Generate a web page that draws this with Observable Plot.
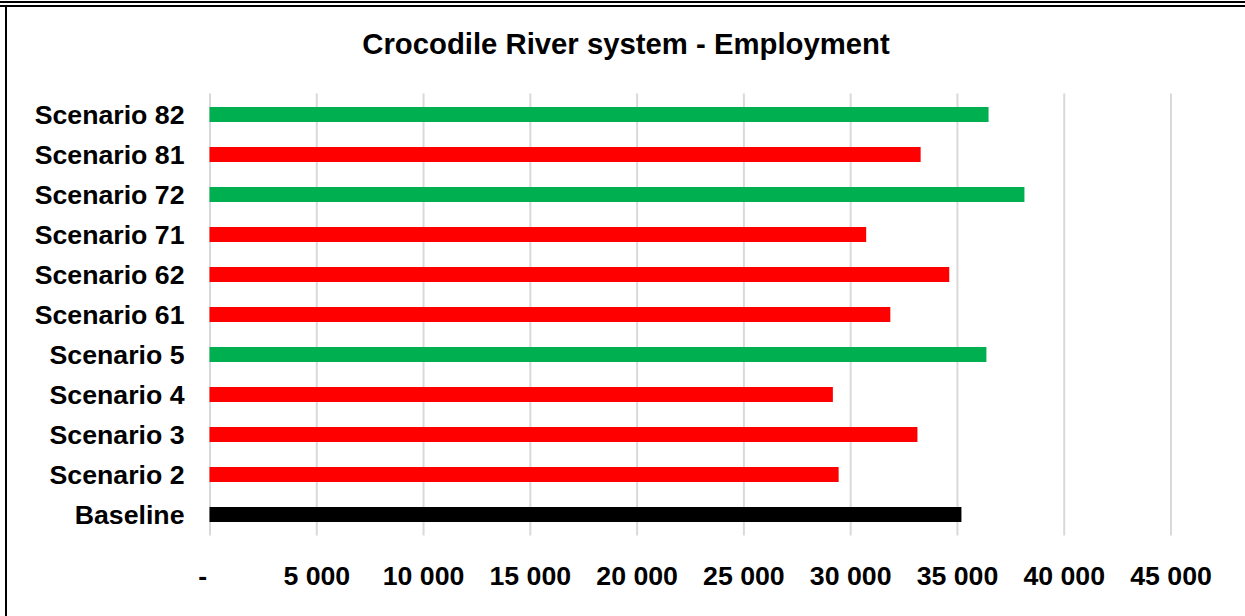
<!DOCTYPE html>
<html>
<head>
<meta charset="utf-8">
<script src="https://cdn.jsdelivr.net/npm/d3@7"></script>
<script src="https://cdn.jsdelivr.net/npm/@observablehq/plot@0.6"></script>
<style>
  html, body { margin: 0; padding: 0; background: #fff; }
  #wrap { position: relative; width: 1245px; height: 616px; overflow: hidden; background: #fff;
          font-family: "Liberation Sans", Arial, sans-serif; }
  .line { position: absolute; background: #000; z-index: 10; }
  #title { position: absolute; left: 7px; top: 0; width: 1238px; height: 88px; line-height: 88px;
           text-align: center; font-size: 29.3px; font-weight: bold; color: #000; }
  #chart { position: absolute; left: 0; top: 88px; z-index: 1; }
</style>
</head>
<body>
<div id="wrap">
  <div id="title">Crocodile River system - Employment</div>
  <div id="chart"></div>
  <div class="line" style="left:0;top:1px;width:1245px;height:2px"></div>
  <div class="line" style="left:0;top:5px;width:1245px;height:2px"></div>
  <div class="line" style="left:5px;top:5px;width:2px;height:611px"></div>
</div>
<script>
const scenarios = ["Scenario 82","Scenario 81","Scenario 72","Scenario 71","Scenario 62","Scenario 61","Scenario 5","Scenario 4","Scenario 3","Scenario 2","Baseline"];
const employment = [36480, 33300, 38160, 30750, 34640, 31880, 36380, 29190, 33150, 29460, 35210];
const xTicks = [0, 5000, 10000, 15000, 20000, 25000, 30000, 35000, 40000, 45000];

const baselineValue = employment[scenarios.indexOf("Baseline")];
const rows = scenarios.map((s, i) => ({
  scenario: s,
  value: employment[i],
  status: s === "Baseline" ? "baseline" : (employment[i] > baselineValue ? "above" : "below")
}));

const fmt = d => d === 0 ? "-\u00a0\u00a0" : d3.format(",")(d).replace(/,/g, " ");

const chart = Plot.plot({
  width: 1245,
  height: 528,
  marginLeft: 209.5,
  marginRight: 74.5,
  marginTop: 5.4,
  marginBottom: 80.4,
  style: { fontFamily: "'Liberation Sans', Arial, sans-serif", fontSize: "26.7px", fontWeight: "bold", color: "#000", background: "transparent" },
  x: { domain: [0, 45000], ticks: xTicks, tickFormat: fmt, tickSize: 0, tickPadding: 29.5, label: null },
  y: { domain: scenarios, paddingInner: 0.627, paddingOuter: 0.3135, tickSize: 0, tickPadding: 25.5, label: null },
  color: { domain: ["baseline", "above", "below"], range: ["#000000", "#00b050", "#ff0000"] },
  marks: [
    Plot.ruleX(xTicks, { x: d => d, stroke: "#d9d9d9", strokeWidth: 2 }),
    Plot.barX(rows, { y: "scenario", x: "value", fill: "status" }),
    Plot.axisX({ ticks: xTicks, tickFormat: fmt, tickSize: 0, tickPadding: 29.5, label: null, fontSize: "26.7px", fontWeight: "bold" }),
    Plot.axisY({ tickSize: 0, tickPadding: 25.5, label: null, fontSize: "26.7px", fontWeight: "bold" })
  ]
});
document.getElementById("chart").appendChild(chart);
</script>
</body>
</html>
